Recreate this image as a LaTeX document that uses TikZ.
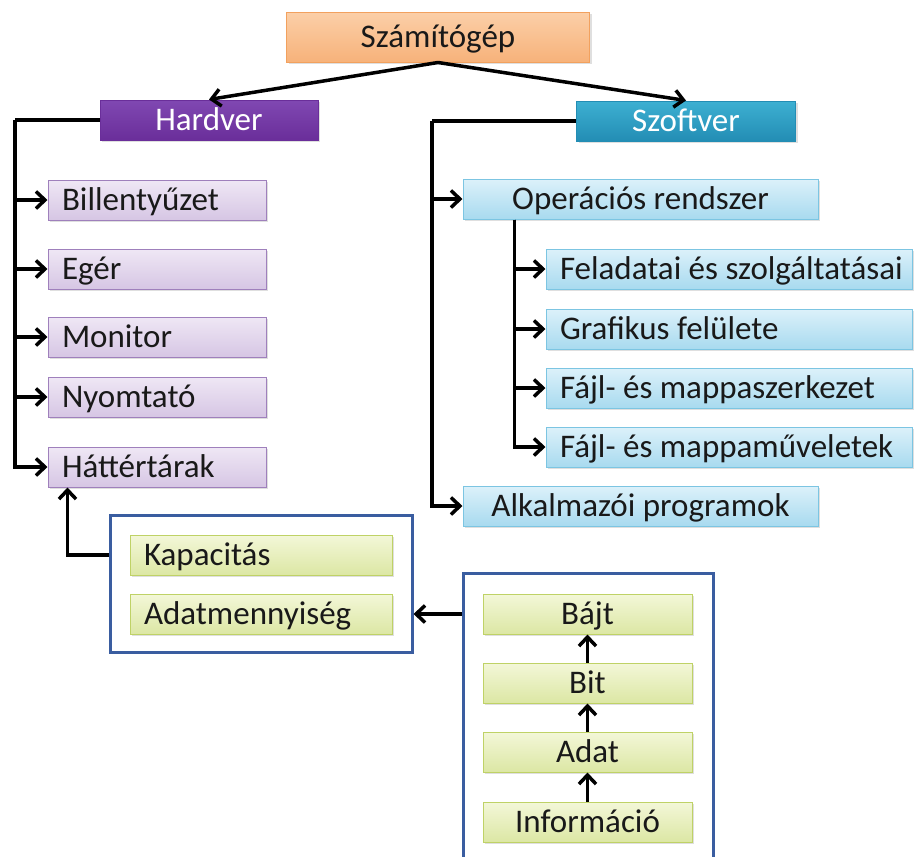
\documentclass[tikz,border=0pt]{standalone}
\usepackage{fontspec}
\setmainfont{Carlito}
\usetikzlibrary{arrows.meta,shadows}
\definecolor{orfill}{HTML}{FBCFA8}
\definecolor{orfilltwo}{HTML}{F7B27A}
\definecolor{ordraw}{HTML}{F2A15E}
\definecolor{hwtop}{HTML}{8048B2}
\definecolor{hwbot}{HTML}{6A2E9A}
\definecolor{swtop}{HTML}{3DB0D2}
\definecolor{swbot}{HTML}{238DB4}
\definecolor{pltop}{HTML}{EFE7F5}
\definecolor{plbot}{HTML}{D6C6E4}
\definecolor{pldraw}{HTML}{9F80BC}
\definecolor{bltop}{HTML}{DCF1FA}
\definecolor{blbot}{HTML}{A8DAEF}
\definecolor{bldraw}{HTML}{7CC5E2}
\definecolor{grtop}{HTML}{F3F7D8}
\definecolor{grbot}{HTML}{DCE7A4}
\definecolor{grdraw}{HTML}{BFD266}
\definecolor{framecol}{HTML}{3A5DA0}
\newcommand{\lefttxt}[2]{\makebox[#1][l]{#2}}
\tikzset{
	boxbase/.style={rectangle, inner xsep=14pt, inner ysep=0pt, minimum height=40pt, text height=21pt, text depth=0pt, text=black!90, font=\fontsize{33}{37}\selectfont, line width=1pt, drop shadow={shadow xshift=2pt, shadow yshift=-2pt, opacity=0.25}},
	topbox/.style={boxbase, draw=ordraw, top color=orfill, bottom color=orfilltwo, minimum width=303pt, minimum height=50pt},
	hwhead/.style={boxbase, draw=hwbot, top color=hwtop, bottom color=hwbot, text=white, minimum width=218pt},
	swhead/.style={boxbase, draw=swbot, top color=swtop, bottom color=swbot, text=white, minimum width=219pt},
	hwitem/.style={boxbase, draw=pldraw, top color=pltop, bottom color=plbot, minimum width=218pt},
	switem/.style={boxbase, draw=bldraw, top color=bltop, bottom color=blbot, minimum width=355pt},
	subitem/.style={boxbase, draw=bldraw, top color=bltop, bottom color=blbot, minimum width=366pt},
	gritem/.style={boxbase, draw=grdraw, top color=grtop, bottom color=grbot, minimum width=262pt},
	chainitem/.style={boxbase, draw=grdraw, top color=grtop, bottom color=grbot, minimum width=209pt},
	frame/.style={rectangle, draw=framecol, line width=3pt, fill=white},
	conn/.style={line width=3.5pt, -{Straight Barb[length=9pt,width=17pt]}},
	bus/.style={line width=3.5pt}
}
\begin{document}
\begin{tikzpicture}[x=1pt,y=-1pt]
	\useasboundingbox[fill=white] (0,0) rectangle (914,857);
	\node[topbox] (comp) at (438,37) {Számítógép};
	\node[hwhead] (hw) at (209,120) {Hardver};
	\node[swhead] (sw) at (686,121) {Szoftver};
	\draw[conn] (comp.south) -- (hw.north);
	\draw[conn] (comp.south) -- (sw.north);
	\coordinate (hwbus) at (15,120);
	\draw[bus] (hw.west) -- (hwbus);
	\foreach \nm/\y/\txt in {bill/200/Billentyűzet, eger/269/Egér, mon/337/Monitor, nyom/397/Nyomtató, hat/467/Háttértárak}
	{
		\node[hwitem] (\nm) at (157,\y) {\lefttxt{190pt}{\txt}};
		\draw[conn] (hwbus) |- (\nm.west);
	}
	\coordinate (swbus) at (432,121);
	\draw[bus] (sw.west) -- (swbus);
	\node[switem] (os) at (640.5,199) {Operációs rendszer};
	\node[switem] (app) at (640.5,506) {Alkalmazói programok};
	\draw[conn] (swbus) |- (os.west);
	\draw[conn] (swbus) |- (app.west);
	\coordinate (osbus) at ([xshift=52pt]os.south west);
	\foreach \nm/\y/\txt in {fel/269/Feladatai és szolgáltatásai, graf/329/Grafikus felülete, szerk/388/Fájl- és mappaszerkezet, muv/447/Fájl- és mappaműveletek}
	{
		\node[subitem] (\nm) at (729,\y) {\lefttxt{338pt}{\txt}};
		\draw[conn] (osbus) |- (\nm.west);
	}
	\node[frame, minimum width=302pt, minimum height=137pt] (lframe) at (261,583.5) {};
	\node[gritem] (kap) at (261,555) {\lefttxt{234pt}{Kapacitás}};
	\node[gritem] (adm) at (261,614) {\lefttxt{234pt}{Adatmennyiség}};
	\draw[conn] (lframe.west |- kap.west) -| ([xshift=20pt]hat.south west);
	\node[frame, minimum width=250pt, minimum height=297pt] (rframe) at (588,721.5) {};
	\foreach \nm/\y/\txt in {bajt/614/Bájt, bit/683/Bit, adat/752/Adat, info/822/Információ}
	{
		\node[chainitem] (\nm) at (587.5,\y) {\txt};
	}
	\draw[conn] (info.north) -- (adat.south);
	\draw[conn] (adat.north) -- (bit.south);
	\draw[conn] (bit.north) -- (bajt.south);
	\draw[conn] (rframe.west |- bajt.west) -- (lframe.east |- bajt.west);
\end{tikzpicture}
\end{document}
